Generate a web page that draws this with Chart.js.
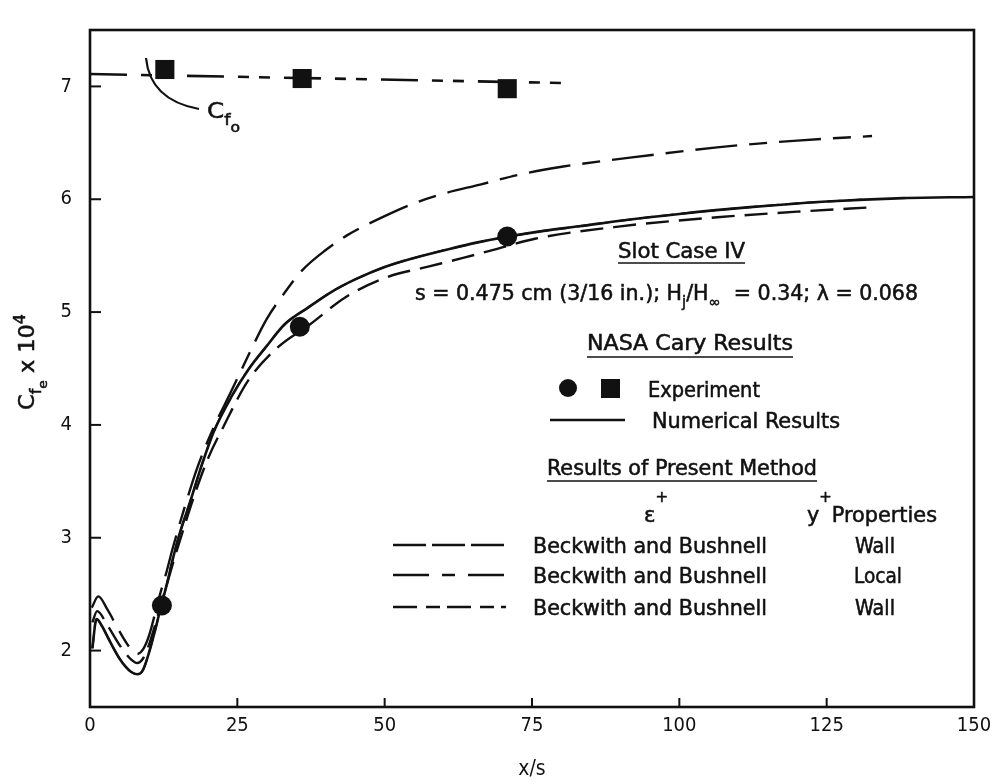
<!DOCTYPE html>
<html>
<head>
<meta charset="utf-8">
<script src="https://cdn.jsdelivr.net/npm/chart.js@4.4.1/dist/chart.umd.min.js"></script>
<style>
  html, body { margin: 0; padding: 0; background: #fff; }
  #wrap { width: 999px; height: 784px; }
</style>
</head>
<body>
<div id="wrap"><canvas id="chart" width="999" height="784"></canvas></div>
<script>
// tick labels
const xTicks = [0, 25, 50, 75, 100, 125, 150];
const yTicks = [2, 3, 4, 5, 6, 7];

// NASA Cary numerical results (solid)
const solidX = [0.4, 1.1, 2, 3, 4, 5, 6, 7, 8, 9, 10, 11, 12, 13, 14, 15, 17, 19, 21, 24, 27, 30, 33, 37, 41, 45, 50, 55, 61, 66, 71, 77, 83, 90, 100, 112, 125, 138, 150];
const solidY = [2.02, 2.28, 2.22, 2.12, 2.02, 1.93, 1.86, 1.81, 1.79, 1.83, 1.98, 2.17, 2.38, 2.58, 2.80, 3.00, 3.32, 3.65, 3.94, 4.25, 4.50, 4.70, 4.89, 5.04, 5.18, 5.29, 5.40, 5.48, 5.56, 5.62, 5.67, 5.72, 5.76, 5.81, 5.87, 5.93, 5.98, 6.01, 6.02];

// Beckwith and Bushnell, local properties
const localX = [0.3, 1.4, 3, 5, 7, 8, 9, 10, 11, 12, 13, 14, 16, 18.2, 21, 23.8, 27, 30, 33, 36, 40, 43.6, 50, 54.8, 60, 66.2, 73, 80.3, 95, 106.4, 120, 132.7];
const localY = [2.38, 2.48, 2.36, 2.17, 2.01, 1.97, 2.01, 2.13, 2.32, 2.52, 2.70, 2.90, 3.26, 3.62, 3.98, 4.28, 4.63, 4.94, 5.17, 5.37, 5.55, 5.68, 5.85, 5.96, 6.05, 6.13, 6.22, 6.29, 6.39, 6.46, 6.52, 6.56];

// Beckwith and Bushnell, wall properties (long dash)
const wallLongX = [0.4, 1.2, 3, 5, 7, 8, 9, 10, 11, 12, 13, 14, 16, 18, 20, 22.6, 26.8, 31.7, 37.3, 43.3, 50.4, 57.2, 63.3, 69.1, 75.5, 90, 106.4, 120, 133.2];
const wallLongY = [2.25, 2.35, 2.22, 2.05, 1.92, 1.89, 1.93, 2.05, 2.22, 2.40, 2.58, 2.76, 3.10, 3.42, 3.70, 3.98, 4.39, 4.68, 4.89, 5.13, 5.31, 5.40, 5.48, 5.56, 5.65, 5.76, 5.84, 5.89, 5.93];

// Beckwith and Bushnell, wall properties (short dash) - lies on the solid curve
const wallShortX = [0.4, 1.1, 2, 3, 4, 5, 6, 7, 8, 9, 10, 11, 12, 13, 14, 15, 17, 19, 21, 24, 27, 30, 33, 37, 41, 45, 50, 55, 61, 66, 71, 77, 83, 90, 100, 112, 125, 132];
const wallShortY = [2.02, 2.28, 2.22, 2.12, 2.02, 1.93, 1.86, 1.81, 1.79, 1.83, 1.98, 2.17, 2.38, 2.58, 2.80, 3.00, 3.32, 3.65, 3.94, 4.25, 4.50, 4.70, 4.89, 5.04, 5.18, 5.29, 5.40, 5.48, 5.56, 5.62, 5.67, 5.72, 5.76, 5.81, 5.87, 5.93, 5.98, 6.00];

// C_f0 reference line
const cf0X = [0, 80.5];
const cf0Y = [7.11, 7.03];

// experiment
const circleX = [12.2, 35.6, 70.8];
const circleY = [2.40, 4.87, 5.67];
const squareX = [12.7, 36.0, 70.8];
const squareY = [7.15, 7.07, 6.98];

const FONT = "'Liberation Sans Narrow', 'DejaVu Sans Condensed', 'Liberation Sans', sans-serif";
const INK = '#111';

const pts = (xs, ys) => xs.map((x, i) => ({ x: x, y: ys[i] }));

const curve = (label, xs, ys, dash, width) => ({
    label: label,
    data: pts(xs, ys),
    borderColor: INK,
    borderWidth: width,
    borderDash: dash,
    pointRadius: 0,
    fill: false,
    cubicInterpolationMode: 'monotone'
});

// text with sub/superscripts, squeezed to a given width
function drawRuns(ctx, parts, x, y, width, size) {
    const sz = l => l === 0 ? size : l === 2 ? Math.round(size * 0.62) : Math.round(size * 0.72);
    const dy = l => ({ 0: 0, 1: size * 0.32, 2: size * 0.62, '-1': -size * 0.45, '-2': -size * 0.95 })[l];
    let total = 0;
    parts.forEach(([t, l]) => { ctx.font = sz(l) + 'px ' + FONT; total += ctx.measureText(t).width; });
    const k = width ? width / total : 1;
    ctx.save();
    ctx.translate(x, y);
    ctx.scale(k, 1);
    ctx.textBaseline = 'alphabetic';
    ctx.textAlign = 'left';
    ctx.lineWidth = 0.5;
    let cx = 0;
    parts.forEach(([t, l]) => {
        ctx.font = sz(l) + 'px ' + FONT;
        ctx.fillText(t, cx, dy(l));
        ctx.strokeText(t, cx, dy(l));
        cx += ctx.measureText(t).width;
    });
    ctx.restore();
}

const notes = [
    { parts: [['Slot Case IV', 0]], x: 618, y: 258, w: 127, u: 263 },
    { parts: [['s = 0.475 cm (3/16 in.); H', 0], ['j', 1], ['/H', 0], ['∞', 1], ['  = 0.34; λ = 0.068', 0]], x: 415, y: 300, w: 503 },
    { parts: [['NASA Cary Results', 0]], x: 587, y: 350, w: 206, u: 357 },
    { parts: [['Experiment', 0]], x: 648, y: 397, w: 112 },
    { parts: [['Numerical Results', 0]], x: 652, y: 428, w: 188 },
    { parts: [['Results of Present Method', 0]], x: 547, y: 475, w: 270, u: 481 },
    { parts: [['ε', 0], ['+', -2]], x: 644, y: 522, w: 24 },
    { parts: [['y', 0], ['+', -2], ['Properties', 0]], x: 807, y: 522, w: 130 },
    { parts: [['Beckwith and Bushnell', 0]], x: 533, y: 553, w: 234 },
    { parts: [['Beckwith and Bushnell', 0]], x: 533, y: 583, w: 234 },
    { parts: [['Beckwith and Bushnell', 0]], x: 533, y: 615, w: 234 },
    { parts: [['Wall', 0]], x: 855, y: 553, w: 40 },
    { parts: [['Local', 0]], x: 854, y: 583, w: 48 },
    { parts: [['Wall', 0]], x: 855, y: 615, w: 40 }
];

const legendLines = [
    { y: 420, dash: [] },
    { y: 545, dash: [33, 6] },
    { y: 575, dash: [36, 13, 13, 13] },
    { y: 607, dash: [24, 9, 14, 7] }
];

const overlay = {
    id: 'overlay',
    afterDraw(chart) {
        const ctx = chart.ctx;
        const a = chart.chartArea;
        const xs = chart.scales.x, ys = chart.scales.y;
        ctx.save();
        ctx.strokeStyle = INK;
        ctx.fillStyle = INK;

        // frame
        ctx.lineWidth = 2.6;
        ctx.strokeRect(a.left, a.top, a.right - a.left, a.bottom - a.top);

        // inward ticks
        ctx.lineWidth = 2;
        xTicks.forEach(v => {
            const px = xs.getPixelForValue(v);
            ctx.beginPath(); ctx.moveTo(px, a.bottom); ctx.lineTo(px, a.bottom - 9); ctx.stroke();
        });
        yTicks.forEach(v => {
            const py = ys.getPixelForValue(v);
            ctx.beginPath(); ctx.moveTo(a.left, py); ctx.lineTo(a.left + 11, py); ctx.stroke();
        });

        // y axis title
        ctx.save();
        ctx.translate(34, 362);
        ctx.rotate(-Math.PI / 2);
        drawRuns(ctx, [['C', 0], ['f', 1], ['e', 2], [' x 10', 0], ['4', -1]], -48, 0, 96, 21);
        ctx.restore();

        // C_f0 leader
        ctx.lineWidth = 2.2;
        ctx.beginPath();
        ctx.moveTo(146, 58);
        ctx.quadraticCurveTo(150, 100, 199, 109);
        ctx.stroke();
        drawRuns(ctx, [['C', 0], ['f', 1], ['o', 2]], 207, 118, 33, 22);

        // notes
        notes.forEach(n => {
            drawRuns(ctx, n.parts, n.x, n.y, n.w, 21);
            if (n.u) {
                ctx.lineWidth = 1.6;
                ctx.beginPath(); ctx.moveTo(n.x, n.u); ctx.lineTo(n.x + n.w, n.u); ctx.stroke();
            }
        });

        // legend samples
        ctx.lineWidth = 2.5;
        legendLines.forEach((l, i) => {
            ctx.setLineDash(l.dash);
            ctx.beginPath();
            if (i === 0) { ctx.moveTo(550, l.y); ctx.lineTo(625, l.y); }
            else { ctx.moveTo(393, l.y); ctx.lineTo(506, l.y); }
            ctx.stroke();
        });
        ctx.setLineDash([]);
        ctx.beginPath(); ctx.arc(568, 388, 9, 0, Math.PI * 2); ctx.fill();
        ctx.fillRect(601, 379, 19, 19);
        ctx.restore();
    }
};

new Chart(document.getElementById('chart'), {
    type: 'line',
    data: {
        datasets: [
            { label: 'Experiment', data: pts(circleX, circleY), showLine: false, pointStyle: 'circle', pointRadius: 10, backgroundColor: INK, borderColor: INK, borderWidth: 0 },
            { label: 'Experiment', data: pts(squareX, squareY), showLine: false, pointStyle: 'rect', pointRadius: 13.5, backgroundColor: INK, borderColor: INK, borderWidth: 0 },
            curve('Numerical Results', solidX, solidY, [], 2.6),
            { label: 'Cf0', data: pts(cf0X, cf0Y), borderColor: INK, borderWidth: 2.6, borderDash: [37, 14, 11, 10, 11, 14], pointRadius: 0, tension: 0 },
            curve('Beckwith and Bushnell - Local', localX, localY, [42, 12, 18, 12], 2.4),
            curve('Beckwith and Bushnell - Wall', wallLongX, wallLongY, [23, 10], 2.4),
            curve('Beckwith and Bushnell - Wall (2)', wallShortX, wallShortY, [14, 7], 2)
        ]
    },
    options: {
        responsive: false,
        animation: false,
        layout: { padding: { left: 0, right: 25, top: 7, bottom: 0 } },
        plugins: { legend: { display: false }, tooltip: { enabled: false } },
        scales: {
            x: {
                type: 'linear', min: 0, max: 150,
                afterBuildTicks: s => { s.ticks = xTicks.map(v => ({ value: v })); },
                afterFit: s => { s.height = 77; },
                grid: { display: false, drawTicks: false },
                border: { display: false },
                ticks: { padding: 7, color: INK, font: { family: FONT, size: 20 }, maxRotation: 0, autoSkip: false },
                title: { display: true, text: 'x/s', color: INK, font: { family: FONT, size: 21 }, padding: { top: 0, bottom: 2 } }
            },
            y: {
                type: 'linear', min: 1.5, max: 7.5,
                afterBuildTicks: s => { s.ticks = yTicks.map(v => ({ value: v })); },
                afterFit: s => { s.width = 90; },
                grid: { display: false, drawTicks: false },
                border: { display: false },
                ticks: { padding: 18, color: INK, font: { family: FONT, size: 20 } }
            }
        }
    },
    plugins: [overlay]
});
</script>
</body>
</html>
